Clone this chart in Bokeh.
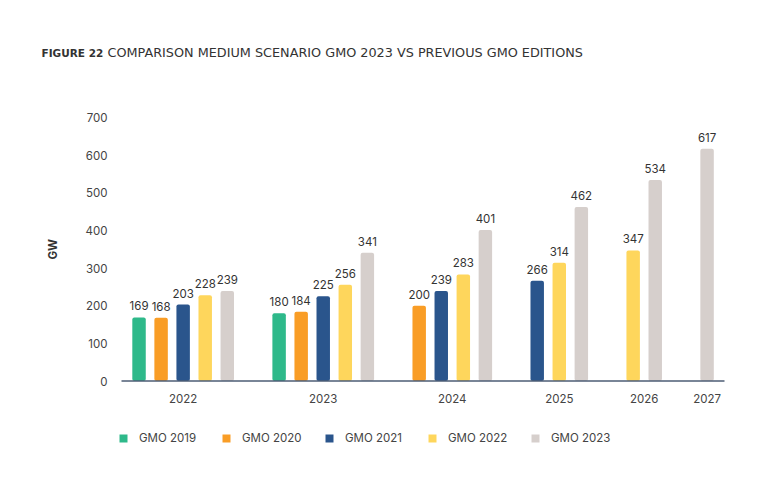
import math
from bokeh.plotting import figure
from bokeh.models import ColumnDataSource, Legend, LegendItem, Range1d
from bokeh.core.properties import value
from bokeh.embed import file_html
from bokeh.resources import INLINE

years = ["2022", "2023", "2024", "2025", "2026", "2027"]
series = ["GMO 2019", "GMO 2020", "GMO 2021", "GMO 2022", "GMO 2023"]
gmo2019 = [169, 180, None, None, None, None]
gmo2020 = [168, 184, 200, None, None, None]
gmo2021 = [203, 225, 239, 266, None, None]
gmo2022 = [228, 256, 283, 314, 347, None]
gmo2023 = [239, 341, 401, 462, 534, 617]
y_ticks = [0, 100, 200, 300, 400, 500, 600, 700]
y_label = "GW"
title_bold = "FIGURE 22"
title_rest = "COMPARISON MEDIUM SCENARIO GMO 2023 VS PREVIOUS GMO EDITIONS"

colors = ["#2eb98a", "#f99d26", "#2a558c", "#fed65c", "#d6cfcc"]
data = [gmo2019, gmo2020, gmo2021, gmo2022, gmo2023]

FONT = "Inter"
TFONT = "DejaVu Sans"
GAP = 1.35

# packed bar positions (bars of each year side by side, missing editions skipped)
xs = {s: [] for s in series}
vs = {s: [] for s in series}
group_centers = []
pos = 0.0
for i, yr in enumerate(years):
    members = []
    for s, d in zip(series, data):
        if d[i] is not None:
            xs[s].append(round(pos, 3))
            vs[s].append(d[i])
            members.append(pos)
            pos += 1
    group_centers.append(round(sum(members) / len(members), 3))
    pos += GAP

# layout of the plotting area on the 768x495 canvas (pixels)
W, H = 768, 495
FL, FR, FT, FB = 121, 724, 117, 380.5
x0, x1 = -0.795, group_centers[-1] + 0.79
y_max = y_ticks[-1]
kx = (FR - FL) / (x1 - x0)
ky = (FB - FT) / y_max


def xpx(px):
    return x0 + (px - FL) / kx


def ypx(py):
    return (FB - py) / ky


p = figure(width=W, height=H, output_backend="svg", toolbar_location=None,
           x_range=Range1d(xpx(0), xpx(W)), y_range=Range1d(ypx(H), ypx(0)),
           x_axis_location=None, y_axis_location=None, min_border=0)
p.outline_line_color = None
p.background_fill_color = "white"
p.border_fill_color = "white"
p.xgrid.grid_line_color = None
p.ygrid.grid_line_color = None

items = []
all_x, all_v = [], []
for s, c in zip(series, colors):
    src = ColumnDataSource(dict(x=xs[s], top=vs[s]))
    r = p.vbar(x="x", top="top", width=0.61, source=src, fill_color=c, line_color=None,
               border_radius=2)
    items.append(LegendItem(label=s, renderers=[r]))
    all_x += xs[s]
    all_v += vs[s]

# value labels
lab_src = ColumnDataSource(dict(x=all_x, y=all_v, t=[str(v) for v in all_v]))
p.text(x="x", y="y", text="t", source=lab_src, text_align="center", text_baseline="bottom",
       y_offset=-7, text_font=value(FONT), text_font_size="11.5px", text_color="#333333")

# x axis: baseline + year labels
p.segment(x0=[x0], y0=[0], x1=[x1], y1=[0], line_color="#4d5d75", line_width=1.5)
p.text(x=group_centers, y=[0] * len(group_centers), text=years, text_align="center",
       text_baseline="middle", y_offset=17.5, text_font=value(FONT), text_font_size="11.5px",
       text_color="#444444")

# y axis labels
p.text(x=[xpx(107)] * len(y_ticks), y=y_ticks, text=[str(v) for v in y_ticks],
       text_align="right", text_baseline="middle", text_font=value(FONT),
       text_font_size="11.5px", text_color="#444444")
p.text(x=[xpx(52)], y=[y_max / 2], text=[y_label], angle=math.pi / 2, text_align="center",
       text_baseline="middle", text_font=value(FONT), text_font_size="11.5px",
       text_font_style="bold", text_color="#333333")

# title
p.text(x=[xpx(41)], y=[ypx(52)], text=[title_bold], text_font=value(TFONT), text_font_size="10.5px",
       text_font_style="bold", text_color="#333333", text_baseline="middle")
p.text(x=[xpx(107)], y=[ypx(52)], text=[title_rest], text_font=value(TFONT), text_font_size="12.8px",
       text_color="#333333", text_baseline="middle")

legend = Legend(items=items, orientation="horizontal", location=(118, 50),
                glyph_width=10, glyph_height=10, label_standoff=11, spacing=14,
                label_width=68, label_height=12,
                label_text_font=FONT, label_text_font_size="11.5px", label_text_color="#444444",
                border_line_color=None, background_fill_alpha=0, padding=0, margin=0)
p.add_layout(legend, "center")

open("out.html", "w").write(file_html(p, INLINE))
